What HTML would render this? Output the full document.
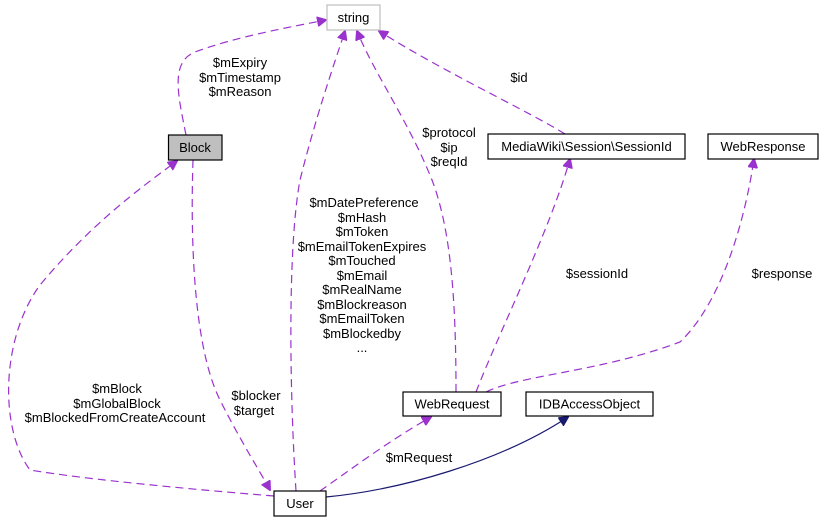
<!DOCTYPE html>
<html><head><meta charset="utf-8"><style>
html,body{margin:0;padding:0;background:#fff;}
svg{display:block;}
text{font-family:"Liberation Sans",sans-serif;font-size:13px;fill:#000;}
.e{fill:none;stroke:#9a32cd;stroke-width:1.2;stroke-dasharray:8,5;}
.n{fill:#fff;stroke:#000;stroke-width:1.2;}
</style></head><body>
<svg width="822" height="523" viewBox="0 0 822 523" xmlns="http://www.w3.org/2000/svg">
<defs>
<marker id="a" markerWidth="10" markerHeight="10" refX="9" refY="5" orient="auto" markerUnits="userSpaceOnUse"><path d="M0,0 L10,5 L0,10 z" fill="#9a32cd" stroke="#9a32cd"/></marker>
<marker id="b" markerWidth="10" markerHeight="10" refX="9" refY="5" orient="auto" markerUnits="userSpaceOnUse"><path d="M0,0 L10,5 L0,10 z" fill="#191970" stroke="#191970"/></marker>
</defs>
<path class="e" marker-end="url(#a)" d="M186,135 C178,95 170,62 195,52 C235,37 290,27 326,20"/>
<path class="e" marker-end="url(#a)" d="M296,491 C290,400 287,250 300,180 C315,120 332,70 345,31"/>
<path class="e" marker-end="url(#a)" d="M456,392 C456,300 451,230 432,180 C408,120 375,75 357,31"/>
<path class="e" marker-end="url(#a)" d="M565,134 C530,112 440,70 379,31"/>
<path class="e" marker-end="url(#a)" d="M193,160 C190,250 195,350 220,400 C240,440 258,468 270,490"/>
<path class="e" marker-end="url(#a)" d="M274,496 C200,490 90,480 30,470 C0,430 0,340 40,285 C90,225 140,188 177,161"/>
<path class="e" marker-end="url(#a)" d="M320,491 C350,470 390,440 431,417"/>
<path fill="none" stroke="#191970" stroke-width="1.2" marker-end="url(#b)" d="M326,497 C400,490 500,462 568,417"/>
<path class="e" marker-end="url(#a)" d="M476,392 C500,330 550,230 570,159"/>
<path class="e" marker-end="url(#a)" d="M486,392 C520,375 600,372 680,342 C722,302 745,220 754,159"/>
<rect x="327" y="5" width="53" height="25" fill="#fff" stroke="#bfbfbf" stroke-width="1.2"/>
<text x="353.5" y="22" text-anchor="middle">string</text>
<rect x="168.5" y="135" width="53.5" height="25" fill="#bfbfbf" stroke="#000" stroke-width="1.2"/>
<text x="195" y="152" text-anchor="middle">Block</text>
<rect class="n" x="274" y="491" width="52" height="25"/>
<text x="300" y="508" text-anchor="middle">User</text>
<rect class="n" x="403" y="392" width="98" height="24"/>
<text x="452" y="408.5" text-anchor="middle">WebRequest</text>
<rect class="n" x="526" y="392" width="127" height="24"/>
<text x="589.5" y="408.5" text-anchor="middle">IDBAccessObject</text>
<rect class="n" x="488" y="134" width="197" height="25"/>
<text x="586.5" y="151" text-anchor="middle">MediaWiki\Session\SessionId</text>
<rect class="n" x="708" y="134" width="110" height="25"/>
<text x="763" y="151" text-anchor="middle">WebResponse</text>
<g text-anchor="middle">
<text x="240" y="67">$mExpiry</text><text x="240" y="82">$mTimestamp</text><text x="240" y="96">$mReason</text>
<text x="449" y="137">$protocol</text><text x="449" y="152">$ip</text><text x="449" y="166">$reqId</text>
<text x="519" y="82">$id</text>
<text x="597" y="278">$sessionId</text>
<text x="782" y="278">$response</text>
<text x="419" y="462">$mRequest</text>
<text x="256" y="400">$blocker</text><text x="254" y="415">$target</text>
<text x="117" y="393">$mBlock</text><text x="117" y="408">$mGlobalBlock</text><text x="115" y="422">$mBlockedFromCreateAccount</text>
<text x="364" y="207">$mDatePreference</text>
<text x="362" y="222">$mHash</text>
<text x="362" y="236">$mToken</text>
<text x="362" y="251">$mEmailTokenExpires</text>
<text x="362" y="265">$mTouched</text>
<text x="362" y="280">$mEmail</text>
<text x="362" y="294">$mRealName</text>
<text x="362" y="309">$mBlockreason</text>
<text x="362" y="323">$mEmailToken</text>
<text x="362" y="338">$mBlockedby</text>
<text x="362" y="352">...</text>
</g>
</svg>
</body></html>
